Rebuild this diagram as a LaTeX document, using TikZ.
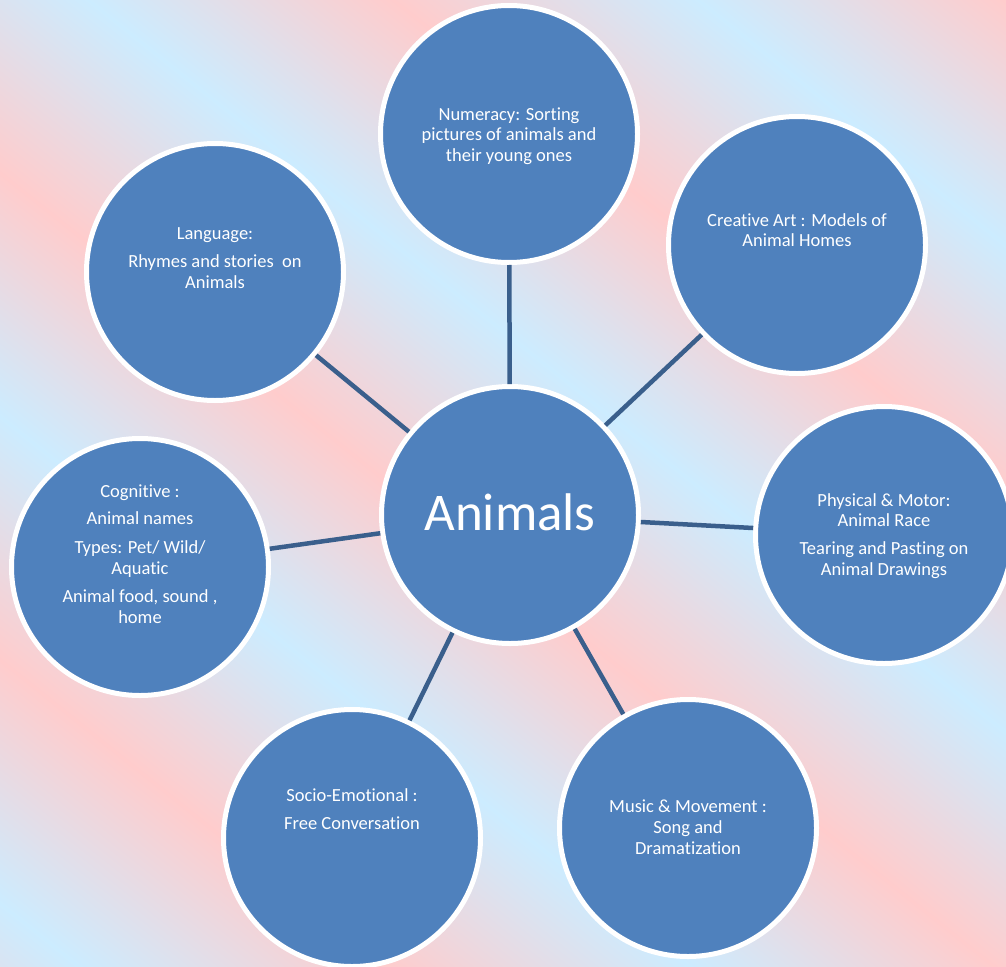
\documentclass[tikz,border=0pt]{standalone}
\usepackage{fontspec}
\setmainfont[Ligatures=CommonOff]{Carlito}
\definecolor{bgpink}{RGB}{255,204,204}
\definecolor{bgblue}{RGB}{204,236,255}
\definecolor{discfill}{RGB}{79,129,189}
\definecolor{linkblue}{RGB}{58,95,140}
\tikzset{disc/.style={circle,draw=white,line width=5pt,fill=discfill,minimum size=257pt,inner sep=0pt},
  lbl/.style={text=white,align=center,inner sep=0pt,font=\fontsize{18.5}{20.7}\selectfont},
  link/.style={draw=linkblue,line width=4.5pt}}

\begin{document}
\begin{tikzpicture}[x=1pt,y=-1pt]
\useasboundingbox (0,0) rectangle (1006,966);
% striped background
\begin{scope}
 \clip (0,0) rectangle (1006,966);
 \begin{scope}[transform canvas={rotate=51.4}]
 \foreach \k in {-3,...,2}{
  \shade[left color=bgblue,right color=bgpink] ({55.2+380.6*\k-0.5},-1600) rectangle ({245.5+380.6*\k+0.5},1600);
  \shade[left color=bgpink,right color=bgblue] ({245.5+380.6*\k-0.5},-1600) rectangle ({435.8+380.6*\k+0.5},1600);}
 \end{scope}
\end{scope}
% discs
\node[disc] (hub) at (510,515) {};
\foreach \n/\x/\y in {num/509/134,lang/215/272,art/797/245,phys/884/535,cog/140/567,soc/352/838,mus/688/828}{
 \node[disc] (\n) at (\x,\y) {};
 \draw[link] (hub)--(\n);}
% texts
\node[lbl,font=\fontsize{53}{60}\selectfont] (hubt) at (510,512) {Animals};
\node[lbl] (numt) at (509,136) {Numeracy: Sorting\\pictures of animals and\\their young ones};
\node[lbl] (langt) at (215,258) {Language:\\[7.5pt]Rhymes and stories\ \ on\\Animals};
\node[lbl] (artt) at (797,230) {Creative Art : Models of\\Animal Homes};
\node[lbl] (physt) at (884,536) {Physical \& Motor:\\Animal Race\\[7.5pt]Tearing and Pasting on\\Animal Drawings};
\node[lbl] (cogt) at (140,554) {Cognitive :\\[6.5pt]Animal names\\[8pt]Types: Pet/ Wild/\\Aquatic\\[7.5pt]Animal food, sound ,\\home};
\node[lbl] (soct) at (352,809) {Socio-Emotional :\\[7.5pt]Free Conversation};
\node[lbl] (must) at (688,827) {Music \& Movement :\\Song and\\Dramatization};
\end{tikzpicture}
\end{document}
